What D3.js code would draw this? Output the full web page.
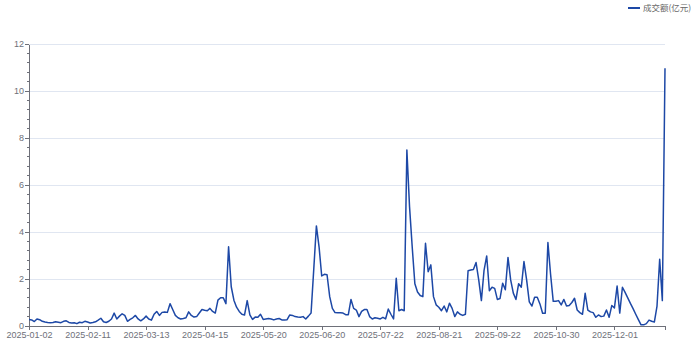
<!DOCTYPE html>
<html>
<head>
<meta charset="utf-8">
<script src="https://cdn.jsdelivr.net/npm/d3@7/dist/d3.min.js"></script>
<style>
  html, body { margin: 0; padding: 0; background: #fff; }
  svg text { font-family: "Noto Sans CJK SC", "Liberation Sans", sans-serif; }
</style>
</head>
<body>
<div id="chart"></div>
<script>
// Trading-day calendar for 2025 (weekdays minus exchange holidays)
const holidays = [
  "2025-01-01", "2025-01-28", "2025-01-29", "2025-01-30", "2025-01-31",
  "2025-02-03", "2025-02-04", "2025-04-04", "2025-05-01", "2025-05-02",
  "2025-05-05", "2025-06-02", "2025-10-01", "2025-10-02", "2025-10-03",
  "2025-10-06", "2025-10-07", "2025-10-08"
];
const firstDay = "2025-01-02";
const lastDay = "2025-12-26";

// Turnover (亿元), one value per trading day
const turnover = [
  0.28, 0.26, 0.19, 0.30, 0.27, 0.20, 0.17, 0.15, 0.14, 0.15,
  0.18, 0.16, 0.14, 0.20, 0.22, 0.15, 0.13, 0.14, 0.10, 0.16,
  0.14, 0.20, 0.17, 0.13, 0.15, 0.18, 0.25, 0.33, 0.18, 0.15,
  0.20, 0.30, 0.55, 0.30, 0.42, 0.52, 0.45, 0.20, 0.28, 0.35,
  0.45, 0.30, 0.22, 0.30, 0.42, 0.30, 0.25, 0.50, 0.62, 0.45,
  0.58, 0.60, 0.58, 0.95, 0.70, 0.45, 0.35, 0.30, 0.32, 0.35,
  0.60, 0.45, 0.38, 0.40, 0.55, 0.70, 0.67, 0.65, 0.75, 0.62,
  0.55, 1.10, 1.20, 1.20, 0.95, 3.37, 1.67, 1.10, 0.80, 0.62,
  0.50, 0.47, 1.08, 0.47, 0.28, 0.38, 0.37, 0.50, 0.28, 0.30,
  0.32, 0.30, 0.26, 0.30, 0.32, 0.26, 0.26, 0.27, 0.47, 0.45,
  0.40, 0.38, 0.37, 0.40, 0.30, 0.42, 0.55, 2.40, 4.26, 3.37,
  2.13, 2.20, 2.18, 1.25, 0.75, 0.57, 0.56, 0.56, 0.55, 0.48,
  0.48, 1.13, 0.75, 0.68, 0.40, 0.62, 0.70, 0.70, 0.40, 0.30,
  0.35, 0.33, 0.30, 0.37, 0.30, 0.72, 0.50, 0.30, 2.03, 0.65,
  0.70, 0.65, 7.49, 5.08, 3.37, 1.80, 1.45, 1.30, 1.25, 3.52,
  2.31, 2.60, 1.25, 0.90, 0.80, 0.65, 0.85, 0.60, 0.97, 0.75,
  0.40, 0.60, 0.50, 0.45, 0.50, 2.35, 2.38, 2.40, 2.70, 1.96,
  1.08, 2.37, 2.98, 1.50, 1.65, 1.60, 1.13, 1.17, 1.82, 1.54,
  2.92, 1.96, 1.40, 1.13, 1.80, 1.65, 2.74, 1.96, 1.03, 0.85,
  1.22, 1.22, 0.94, 0.54, 0.54, 3.55, 2.20, 1.05, 1.05, 1.08,
  0.90, 1.13, 0.85, 0.87, 1.00, 1.18, 0.68, 0.57, 0.50, 1.39,
  0.68, 0.60, 0.57, 0.37, 0.47, 0.40, 0.42, 0.68, 0.37, 0.87,
  0.77, 1.70, 0.55, 1.65, 1.43, 1.20, 0.96, 0.74, 0.50, 0.27,
  0.05, 0.05, 0.10, 0.25, 0.20, 0.17, 0.85, 2.84, 1.08, 10.97
];

const yTicks = [0, 2, 4, 6, 8, 10, 12];
const labelEvery = 22;
const seriesName = "成交额(亿元)";

const width = 692, height = 344;
const margin = { top: 44, right: 27, bottom: 18, left: 29 };
const lineColor = "#1d48a6";
const axisColor = "#6E7079";
const gridColor = "#E0E6F1";

// Build trading dates
const fmt = d3.utcFormat("%Y-%m-%d");
const dates = d3.utcDays(new Date(firstDay), d3.utcDay.offset(new Date(lastDay), 1))
  .filter(d => d.getUTCDay() !== 0 && d.getUTCDay() !== 6)
  .map(fmt)
  .filter(d => !holidays.includes(d));

const data = dates.map((d, i) => ({ date: d, value: turnover[i] }));

const svg = d3.select("#chart").append("svg")
  .attr("width", width).attr("height", height);

const x = d3.scalePoint()
  .domain(dates)
  .range([margin.left, width - margin.right])
  .padding(0);

const y = d3.scaleLinear()
  .domain([0, 12])
  .range([height - margin.bottom, margin.top]);

// Split lines
svg.append("g")
  .selectAll("line")
  .data(yTicks.filter(t => t > 0))
  .join("line")
  .attr("x1", margin.left).attr("x2", width - margin.right)
  .attr("y1", d => y(d)).attr("y2", d => y(d))
  .attr("stroke", gridColor).attr("stroke-width", 1)
  .attr("shape-rendering", "crispEdges");

// Y axis with minor ticks
const minorTicks = d3.range(0, 12.01, 0.4).filter(t => !yTicks.some(m => Math.abs(m - t) < 1e-6));
svg.append("g")
  .selectAll("line")
  .data(minorTicks)
  .join("line")
  .attr("x1", margin.left - 2.5).attr("x2", margin.left)
  .attr("y1", d => y(d)).attr("y2", d => y(d))
  .attr("stroke", axisColor).attr("stroke-width", 1)
  .attr("shape-rendering", "crispEdges");

const yAxis = svg.append("g")
  .attr("transform", `translate(${margin.left},0)`)
  .call(d3.axisLeft(y).tickValues(yTicks).tickSize(4).tickPadding(1).tickSizeOuter(0));
yAxis.select(".domain").attr("stroke", axisColor).attr("shape-rendering", "crispEdges");
yAxis.selectAll(".tick line").attr("stroke", axisColor).attr("shape-rendering", "crispEdges");
yAxis.selectAll(".tick text").attr("fill", axisColor).attr("font-size", 9)
  .style("font-family", "'Liberation Sans', sans-serif");

// X axis
const labelDates = dates.filter((d, i) => i % labelEvery === 0);
const tickDates = labelDates.concat([dates[dates.length - 1]]);
const xAxis = svg.append("g")
  .attr("transform", `translate(0,${height - margin.bottom})`)
  .call(d3.axisBottom(x).tickValues(tickDates).tickSize(4).tickPadding(2).tickSizeOuter(0)
    .tickFormat(d => labelDates.includes(d) ? d : ""));
xAxis.select(".domain").attr("stroke", axisColor).attr("shape-rendering", "crispEdges");
xAxis.selectAll(".tick line").attr("stroke", axisColor).attr("shape-rendering", "crispEdges");
xAxis.selectAll(".tick text").attr("fill", axisColor).attr("font-size", 9)
  .style("font-family", "'Liberation Sans', sans-serif");

// Series line
const line = d3.line()
  .x(d => x(d.date))
  .y(d => y(d.value));

svg.append("path")
  .datum(data)
  .attr("fill", "none")
  .attr("stroke", lineColor)
  .attr("stroke-width", 1.5)
  .attr("stroke-linejoin", "round")
  .attr("d", line);

// Legend
const legend = svg.append("g").attr("transform", "translate(628,8)");
legend.append("line")
  .attr("x1", 0).attr("x2", 12).attr("y1", 0).attr("y2", 0)
  .attr("stroke", lineColor).attr("stroke-width", 2);
legend.append("text")
  .attr("x", 15).attr("y", 0).attr("dy", "0.35em")
  .attr("font-size", 8.5).attr("fill", "#666")
  .text(seriesName);
</script>
</body>
</html>
